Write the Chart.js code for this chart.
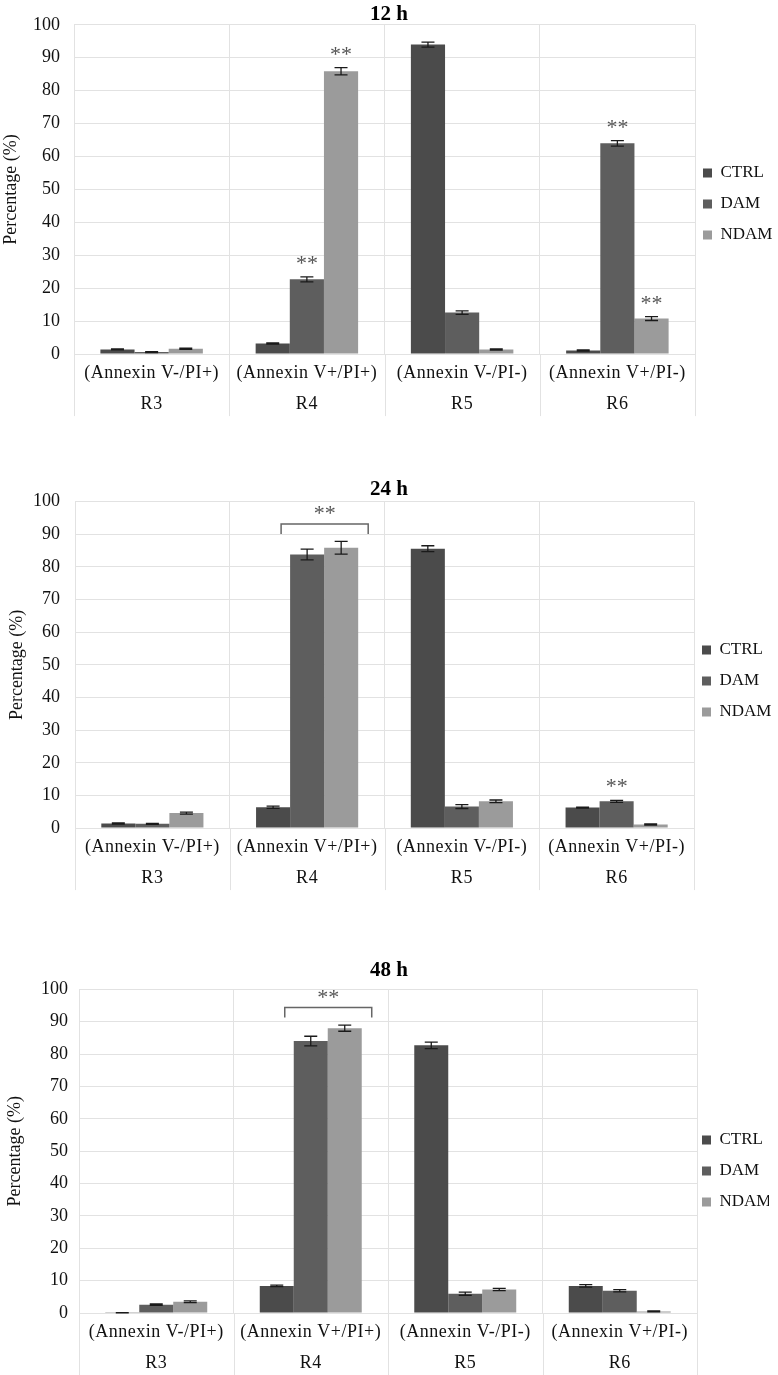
<!DOCTYPE html>
<html><head><meta charset="utf-8">
<script src="https://cdn.jsdelivr.net/npm/chart.js@4.4.0/dist/chart.umd.min.js"></script>
<style>
html,body{margin:0;padding:0;background:#fff;overflow:hidden;width:778px;height:1375px}
.p{position:absolute;left:0;width:778px}
</style></head><body>
<div class="p" style="top:0;height:424px"><canvas id="c1"></canvas></div>
<div class="p" style="top:470px;height:428px"><canvas id="c2"></canvas></div>
<div class="p" style="top:946px;height:437px"><canvas id="c3"></canvas></div>
<script>
// ---- data ----
const categories = [['(Annexin V-/PI+)','R3'],['(Annexin V+/PI+)','R4'],['(Annexin V-/PI-)','R5'],['(Annexin V+/PI-)','R6']];
const seriesNames = ['CTRL','DAM','NDAM'];
const panelTitles = ['12 h','24 h','48 h'];
const yAxisTitle = 'Percentage (%)';

const ctrl12 = [1.4, 3.2, 94.0, 1.1];
const dam12  = [0.6, 22.7, 12.6, 64.0];
const ndam12 = [1.6, 85.9, 1.4, 10.8];
const ctrl12Err = [0.15, 0.2, 0.75, 0.2];
const dam12Err  = [0.15, 0.75, 0.55, 0.85];
const ndam12Err = [0.2, 1.1, 0.2, 0.6];

const ctrl24 = [1.4, 6.4, 85.6, 6.3];
const dam24  = [1.3, 83.8, 6.6, 8.2];
const ndam24 = [4.6, 85.9, 8.2, 1.1];
const ctrl24Err = [0.15, 0.35, 0.9, 0.15];
const dam24Err  = [0.15, 1.65, 0.6, 0.3];
const ndam24Err = [0.3, 1.95, 0.4, 0.15];

const ctrl48 = [0.1, 8.4, 82.7, 8.4];
const dam48  = [2.6, 84.0, 6.0, 6.9];
const ndam48 = [3.5, 88.0, 7.3, 0.5];
const ctrl48Err = [0.05, 0.25, 1.0, 0.4];
const dam48Err  = [0.2, 1.5, 0.5, 0.35];
const ndam48Err = [0.25, 0.95, 0.35, 0.15];

// significance marks: [categoryIndex, seriesIndex]
const stars12 = [[1,1],[1,2],[3,1],[3,2]];
const stars24 = [[3,1]];
const stars48 = [];
// brackets: [categoryIndex, fromSeries, toSeries, topValue, footValue]
const bracket12 = [];
const bracket24 = [[1,1,2,93.2,90.1]];
const bracket48 = [[1,1,2,94.4,91.3]];

// ---- style ----
const SERIF = '"Liberation Serif","Times New Roman",serif';
const COLORS = ['#4b4b4b','#5e5e5e','#9b9b9b'];
const GRID = '#e2e2e2';
const TXT = '#111';
const SEP_LEN = 62;

const annotPlugin = {
  id: 'annot',
  afterLayout(chart, args, o) {
    const lg = chart.legend;
    if (lg && o.legendBoxLeft != null) {
      const pad = chart.options.plugins.legend.labels.padding;
      const fs = chart.options.plugins.legend.labels.font.size;
      const dx = (o.legendBoxLeft - pad) - lg.left;
      const dy = (o.legendFirstY - fs/2 - pad) - lg.top;
      lg.left += dx; lg.right += dx; lg.top += dy; lg.bottom += dy;
    }
  },
  beforeDatasetsDraw(chart) {
    // category separators extended below the axis (multi-level axis look)
    const ctx = chart.ctx, xs = chart.scales.x, area = chart.chartArea;
    ctx.save();
    ctx.strokeStyle = GRID;
    ctx.lineWidth = 1;
    for (let i = 0; i <= chart.data.labels.length; i++) {
      const x = Math.round(xs.getPixelForValue(i - 0.5)) + 0.5;
      ctx.beginPath();
      ctx.moveTo(x, area.bottom);
      ctx.lineTo(x, area.bottom + SEP_LEN);
      ctx.stroke();
    }
    ctx.restore();
  },
  afterDatasetsDraw(chart, args, o) {
    const ctx = chart.ctx, ys = chart.scales.y;
    ctx.save();
    ctx.strokeStyle = '#1a1a1a';
    ctx.lineWidth = 1.3;
    chart.data.datasets.forEach((ds, di) => {
      const meta = chart.getDatasetMeta(di);
      meta.data.forEach((bar, i) => {
        const v = ds.data[i], e = ds.errors[i];
        const yt = ys.getPixelForValue(v + e), yb = ys.getPixelForValue(Math.max(0, v - e));
        const x = bar.x, hw = 6.5;
        ctx.beginPath();
        ctx.moveTo(x, yt); ctx.lineTo(x, yb);
        ctx.moveTo(x - hw, yt); ctx.lineTo(x + hw, yt);
        ctx.moveTo(x - hw, yb); ctx.lineTo(x + hw, yb);
        ctx.stroke();
      });
    });
    const drawStars = (cx, cy) => {
      ctx.fillStyle = '#555';
      ctx.font = '22px ' + SERIF;
      ctx.textAlign = 'center';
      ctx.textBaseline = 'alphabetic';
      ctx.fillText('**', cx, cy + 11.5);
    };
    (o.stars || []).forEach(([c, s]) => {
      const ds = chart.data.datasets[s];
      const bar = chart.getDatasetMeta(s).data[c];
      const yt = ys.getPixelForValue(ds.data[c] + ds.errors[c]);
      drawStars(bar.x, yt - 18.5);
    });
    (o.brackets || []).forEach(([c, s1, s2, topV, footV]) => {
      const b1 = chart.getDatasetMeta(s1).data[c];
      const b2 = chart.getDatasetMeta(s2).data[c];
      const xl = b1.x - b1.width / 2 - 9;
      const xr = b2.x + b2.width / 2 + 10;
      const yt = ys.getPixelForValue(topV), yf = ys.getPixelForValue(footV);
      ctx.strokeStyle = '#666';
      ctx.lineWidth = 1.5;
      ctx.beginPath();
      ctx.moveTo(xl, yf); ctx.lineTo(xl, yt); ctx.lineTo(xr, yt); ctx.lineTo(xr, yf);
      ctx.stroke();
      drawStars((xl + xr) / 2, yt - 15);
    });
    ctx.restore();
    // x category labels (drawn after datasets, ticks.z = 1) use slightly wider spacing
    ctx.letterSpacing = '0.5px';
  },
  afterDraw(chart) {
    chart.ctx.letterSpacing = '0px';
  }
};

function makePanel(id, title, series, errs, stars, brackets, lay) {
  const datasets = series.map((d, i) => ({
    label: seriesNames[i],
    data: d,
    errors: errs[i],
    backgroundColor: COLORS[i],
    borderWidth: 0,
    categoryPercentage: 0.66,
    barPercentage: 1.0
  }));
  new Chart(document.getElementById(id), {
    type: 'bar',
    data: { labels: categories, datasets },
    plugins: [annotPlugin],
    options: {
      responsive: true,
      maintainAspectRatio: false,
      animation: false,
      layout: { padding: 0 },
      plugins: {
        tooltip: { enabled: false },
        title: {
          display: true, text: title, color: '#000',
          font: { family: SERIF, size: 21, weight: 'bold', lineHeight: 1.0 },
          padding: { top: lay.titleTop, bottom: lay.titleBottom }
        },
        legend: {
          position: 'right', align: 'start', maxWidth: 778 - lay.plotRight,
          labels: { boxWidth: 9, boxHeight: 9, padding: 14, color: TXT,
                    font: { family: SERIF, size: 17 } }
        },
        annot: { stars, brackets, legendBoxLeft: lay.legendBoxLeft, legendFirstY: lay.legendFirstY }
      },
      scales: {
        x: {
          offset: true,
          grid: { offset: true, color: GRID, drawTicks: false },
          border: { color: GRID },
          ticks: { z: 1, padding: 4, color: TXT, autoSkip: false, maxRotation: 0,
                   font: { family: SERIF, size: 18, lineHeight: 1.72 } }
        },
        y: {
          min: 0, max: 100,
          ticks: { stepSize: 10, padding: lay.tickPad, color: TXT, font: { family: SERIF, size: 18 } },
          grid: { color: GRID, drawTicks: false },
          border: { color: GRID },
          title: { display: true, text: yAxisTitle, color: TXT,
                   font: { family: SERIF, size: 18, lineHeight: 1.2 },
                   padding: { top: lay.yTitlePad, bottom: 0 } },
          afterFit(s) { s.width = lay.plotLeft; }
        }
      }
    }
  });
}

makePanel('c1', panelTitles[0], [ctrl12, dam12, ndam12], [ctrl12Err, dam12Err, ndam12Err], stars12, bracket12,
  { titleTop: 1.5, titleBottom: 0, plotLeft: 74, plotRight: 695, tickPad: 14, yTitlePad: 0, legendBoxLeft: 703, legendFirstY: 173 });
makePanel('c2', panelTitles[1], [ctrl24, dam24, ndam24], [ctrl24Err, dam24Err, ndam24Err], stars24, bracket24,
  { titleTop: 9.5, titleBottom: 1.2, plotLeft: 75, plotRight: 694, tickPad: 15, yTitlePad: 6.7, legendBoxLeft: 702, legendFirstY: 180 });
makePanel('c3', panelTitles[2], [ctrl48, dam48, ndam48], [ctrl48Err, dam48Err, ndam48Err], stars48, bracket48,
  { titleTop: 14.5, titleBottom: 7.8, plotLeft: 79, plotRight: 697, tickPad: 11, yTitlePad: 4.2, legendBoxLeft: 702, legendFirstY: 194 });
</script>
</body></html>
